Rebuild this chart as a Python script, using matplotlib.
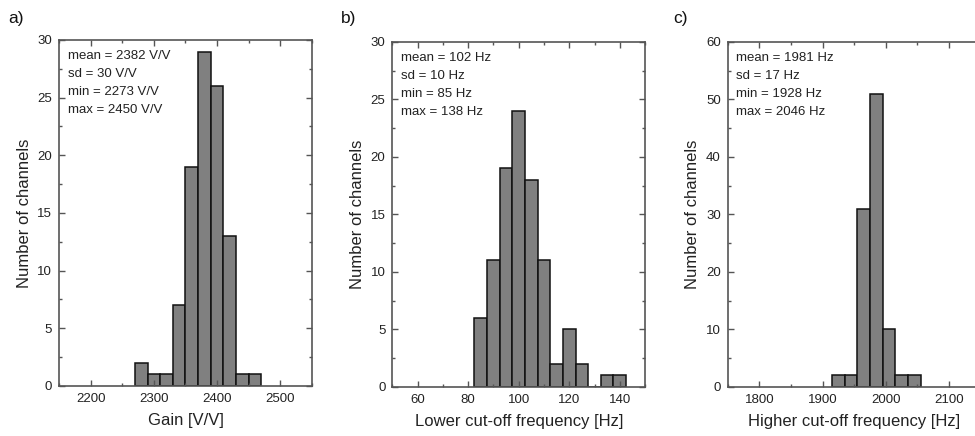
import matplotlib
matplotlib.use("Agg")
import matplotlib.pyplot as plt
from matplotlib.ticker import MultipleLocator
import numpy as np

plt.rcParams['font.family'] = ['Liberation Sans', 'DejaVu Sans']

# Panel a: gain
gain_edges = [2270, 2290, 2310, 2330, 2350, 2370, 2390, 2410, 2430, 2450, 2470]
gain_counts = [2, 1, 1, 7, 19, 29, 26, 13, 1, 1]
gain_stats = ["mean = 2382 V/V", "sd = 30 V/V", "min = 2273 V/V", "max = 2450 V/V"]

# Panel b: lower cut-off
low_edges = [82.5, 87.5, 92.5, 97.5, 102.5, 107.5, 112.5, 117.5, 122.5, 127.5, 132.5, 137.5, 142.5]
low_counts = [6, 11, 19, 24, 18, 11, 2, 5, 2, 0, 1, 1]
low_stats = ["mean = 102 Hz", "sd = 10 Hz", "min = 85 Hz", "max = 138 Hz"]

# Panel c: higher cut-off
high_edges = [1915, 1935, 1955, 1975, 1995, 2015, 2035, 2055]
high_counts = [2, 2, 31, 51, 10, 2, 2]
high_stats = ["mean = 1981 Hz", "sd = 17 Hz", "min = 1928 Hz", "max = 2046 Hz"]

fig = plt.figure(figsize=(9.75, 4.36), dpi=100)

panels = [
    dict(pos=[0.0605, 0.1147, 0.2595, 0.7936], edges=gain_edges, counts=gain_counts,
         stats=gain_stats, xlim=(2150, 2550), xmaj=100, xmin=50, ylim=(0, 30), ymaj=5, ymin=2.5,
         xlabel="Gain [V/V]", tag="a)", tagx=0.008),
    dict(pos=[0.4024, 0.1124, 0.2592, 0.7913], edges=low_edges, counts=low_counts,
         stats=low_stats, xlim=(50, 150), xmaj=20, xmin=10, ylim=(0, 30), ymaj=5, ymin=2.5,
         xlabel="Lower cut-off frequency [Hz]", tag="b)", tagx=0.350),
    dict(pos=[0.7464, 0.1124, 0.2595, 0.7913], edges=high_edges, counts=high_counts,
         stats=high_stats, xlim=(1750, 2150), xmaj=100, xmin=50, ylim=(0, 60), ymaj=10, ymin=5,
         xlabel="Higher cut-off frequency [Hz]", tag="c)", tagx=0.690),
]

spine_col = "#555555"
for p in panels:
    ax = fig.add_axes(p["pos"])
    edges = np.array(p["edges"], dtype=float)
    widths = np.diff(edges)
    ax.bar(edges[:-1], p["counts"], width=widths, align="edge",
           color="#808080", edgecolor="#111111", linewidth=1.1)
    ax.set_xlim(*p["xlim"])
    ax.set_ylim(*p["ylim"])
    ax.xaxis.set_major_locator(MultipleLocator(p["xmaj"]))
    ax.xaxis.set_minor_locator(MultipleLocator(p["xmin"]))
    ax.yaxis.set_major_locator(MultipleLocator(p["ymaj"]))
    ax.yaxis.set_minor_locator(MultipleLocator(p["ymin"]))
    ax.tick_params(which="both", direction="in", top=True, right=True,
                   colors=spine_col, labelcolor="#222222", labelsize=9.5, width=1.0)
    ax.tick_params(which="major", length=4, pad=5)
    ax.tick_params(which="minor", length=2.5)
    for s in ax.spines.values():
        s.set_color(spine_col)
        s.set_linewidth(1.2)
    ax.set_xlabel(p["xlabel"], fontsize=12, color="#222222", labelpad=6)
    ax.set_ylabel("Number of channels", fontsize=12, color="#222222", labelpad=4)
    ax.text(0.034, 0.972, "\n".join(p["stats"]), transform=ax.transAxes,
            va="top", ha="left", fontsize=9.5, color="#222222", linespacing=1.68)
    fig.text(p["tagx"], 0.975, p["tag"], fontsize=12.5, va="top", ha="left", color="#111111")

fig.savefig("out.png", dpi=100)
